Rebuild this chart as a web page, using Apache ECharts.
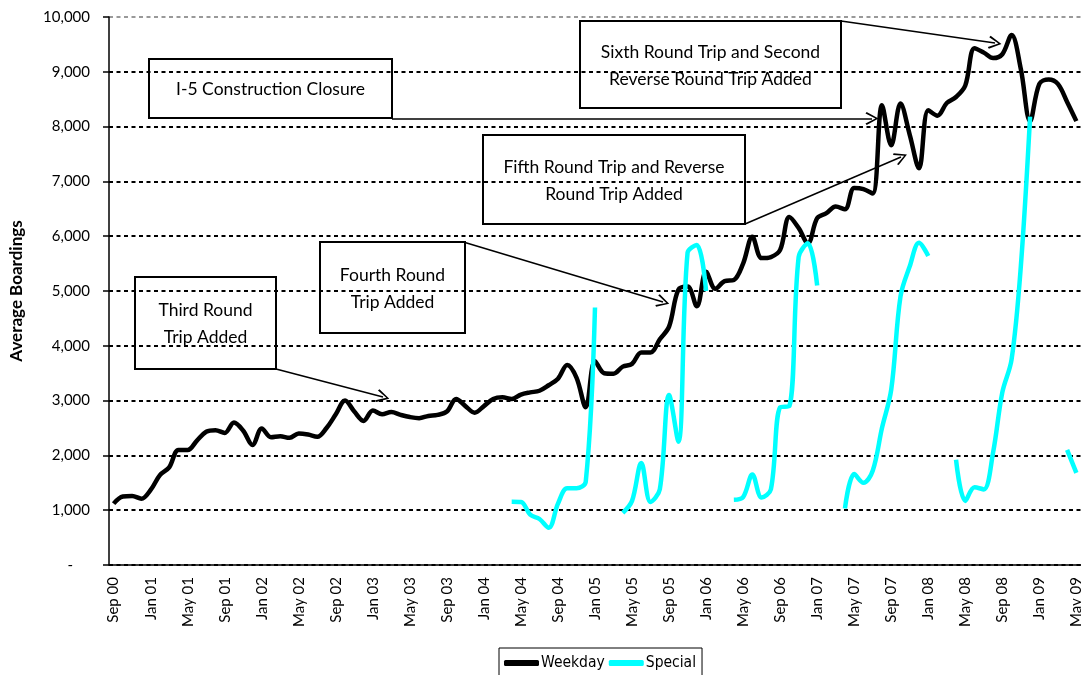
<!DOCTYPE html>
<html>
<head>
<meta charset="utf-8">
<title>Average Boardings</title>
<script src="https://cdn.jsdelivr.net/npm/echarts@6/dist/echarts.min.js"></script>
<style>
  html, body { margin: 0; padding: 0; background: #fff; }
  #main { width: 1081px; height: 675px; }
</style>
</head>
<body>
<div id="main"></div>
<script>
// months, Sep 00 .. May 09
const months = [
  'Sep 00', 'Oct 00', 'Nov 00', 'Dec 00',
  'Jan 01', 'Feb 01', 'Mar 01', 'Apr 01', 'May 01', 'Jun 01', 'Jul 01', 'Aug 01', 'Sep 01', 'Oct 01', 'Nov 01', 'Dec 01',
  'Jan 02', 'Feb 02', 'Mar 02', 'Apr 02', 'May 02', 'Jun 02', 'Jul 02', 'Aug 02', 'Sep 02', 'Oct 02', 'Nov 02', 'Dec 02',
  'Jan 03', 'Feb 03', 'Mar 03', 'Apr 03', 'May 03', 'Jun 03', 'Jul 03', 'Aug 03', 'Sep 03', 'Oct 03', 'Nov 03', 'Dec 03',
  'Jan 04', 'Feb 04', 'Mar 04', 'Apr 04', 'May 04', 'Jun 04', 'Jul 04', 'Aug 04', 'Sep 04', 'Oct 04', 'Nov 04', 'Dec 04',
  'Jan 05', 'Feb 05', 'Mar 05', 'Apr 05', 'May 05', 'Jun 05', 'Jul 05', 'Aug 05', 'Sep 05', 'Oct 05', 'Nov 05', 'Dec 05',
  'Jan 06', 'Feb 06', 'Mar 06', 'Apr 06', 'May 06', 'Jun 06', 'Jul 06', 'Aug 06', 'Sep 06', 'Oct 06', 'Nov 06', 'Dec 06',
  'Jan 07', 'Feb 07', 'Mar 07', 'Apr 07', 'May 07', 'Jun 07', 'Jul 07', 'Aug 07', 'Sep 07', 'Oct 07', 'Nov 07', 'Dec 07',
  'Jan 08', 'Feb 08', 'Mar 08', 'Apr 08', 'May 08', 'Jun 08', 'Jul 08', 'Aug 08', 'Sep 08', 'Oct 08', 'Nov 08', 'Dec 08',
  'Jan 09', 'Feb 09', 'Mar 09', 'Apr 09', 'May 09'
];

// weekday boardings
const weekday = [
  1120, 1250, 1260, 1210,
  1370, 1640, 1780, 2100, 2100, 2270, 2430, 2460, 2410, 2600, 2450, 2190,
  2490, 2330, 2350, 2320, 2400, 2380, 2340, 2500, 2750, 3000, 2800, 2630,
  2820, 2750, 2790, 2740, 2700, 2680, 2720, 2740, 2800, 3030, 2900, 2780,
  2900, 3030, 3060, 3030, 3110, 3150, 3180, 3280, 3400, 3650, 3420, 2880,
  3720, 3500, 3490, 3620, 3670, 3880, 3880, 4120, 4350, 5020, 5080, 4720,
  5350, 5040, 5180, 5200, 5500, 5990, 5600, 5620, 5750, 6350, 6150, 5870,
  6330, 6420, 6540, 6490, 6880, 6860, 6780, 8390, 7660, 8420, 7850, 7240,
  8300, 8200, 8430, 8540, 8750, 9430, 9350, 9250, 9320, 9670, 9050, 8100,
  8780, 8860, 8780, 8450, 8100
];

// special service boardings (gaps = no service)
const special = [
  null, null, null, null,
  null, null, null, null, null, null, null, null, null, null, null, null,
  null, null, null, null, null, null, null, null, null, null, null, null,
  null, null, null, null, null, null, null, null, null, null, null, null,
  null, null, null, 1155, 1150, 920, 840, 680, 1120, 1400, 1400, 1520,
  4700, null, null, 950, 1170, 1860, 1150, 1380, 3100, 2250, 5700, 5840,
  5000, null, null, 1190, 1240, 1650, 1230, 1380, 2880, 2900, 5620, 5870,
  5100, null, null, 1030, 1660, 1500, 1720, 2500, 3200, 4900, 5450, 5880,
  5640, null, null, 1920, 1170, 1420, 1380, 2050, 3150, 3750, 5450, 8180,
  null, null, null, 2100, 1680
];

// annotation boxes (pixels) and their arrows
const notes = [
  { text: 'I-5 Construction Closure', x: 149, y: 59, w: 243, h: 59 },
  { text: 'Third Round\nTrip Added', x: 135, y: 277, w: 141, h: 92 },
  { text: 'Fourth Round\nTrip Added', x: 320, y: 242, w: 145, h: 91 },
  { text: 'Fifth Round Trip and Reverse\nRound Trip Added', x: 483, y: 135, w: 262, h: 89 },
  { text: 'Sixth Round Trip and Second\nReverse Round Trip Added', x: 580, y: 21, w: 261, h: 87 }
];
const arrows = [
  [[392, 118.5], [872, 118.5]],
  [[276, 369], [383, 397]],
  [[465, 242.5], [663, 302]],
  [[745, 224], [901, 157]],
  [[841, 21], [995, 43]]
];

const chevron = 'path://M0,0L6,10L4.6,11L0,2.6L-4.6,11L-6,10Z';

let chartDom = document.getElementById('main');
let myChart = echarts.init(chartDom);

const graphic = notes.map(function (n) {
  return {
    type: 'group',
    z: 100,
    children: [
      {
        type: 'rect',
        shape: { x: n.x, y: n.y, width: n.w, height: n.h },
        style: { fill: '#fff', stroke: '#000', lineWidth: 2 }
      },
      {
        type: 'text',
        style: {
          text: n.text,
          x: n.x + n.w / 2,
          y: n.y + n.h / 2 + 1,
          align: 'center',
          verticalAlign: 'middle',
          fontFamily: 'Lato',
          fontSize: 17.5,
          lineHeight: 27,
          fill: '#000'
        }
      }
    ]
  };
});

const gridColors = [];
for (let i = 0; i < 10; i++) gridColors.push('#000');
gridColors.push('#999');

const option = {
  animation: false,
  textStyle: { fontFamily: 'Lato' },
  grid: { left: 109, right: 0, top: 17, bottom: 110, containLabel: false, outerBoundsMode: 'none' },
  xAxis: {
    type: 'category',
    data: months,
    boundaryGap: true,
    axisLine: { lineStyle: { color: '#000', width: 1.5 } },
    axisTick: { interval: 3, length: 6, lineStyle: { color: '#000', width: 1.5 } },
    axisLabel: { interval: 3, rotate: 90, fontSize: 15, color: '#000', margin: 12, padding: [0, 0, 7, 0] },
    splitLine: { show: false }
  },
  yAxis: {
    type: 'value',
    min: 0,
    max: 10000,
    interval: 1000,
    name: 'Average Boardings',
    nameLocation: 'middle',
    nameGap: 84,
    nameTextStyle: { fontWeight: 'bold', fontSize: 17, color: '#000' },
    axisLine: { show: true, lineStyle: { color: '#000', width: 1.5 } },
    axisTick: { show: true, length: 6, lineStyle: { color: '#000', width: 1.5 } },
    axisLabel: {
      fontSize: 15,
      color: '#000',
      margin: 19,
      formatter: function (v) {
        return v === 0 ? '{d|-}' : v.toLocaleString('en-US');
      },
      rich: { d: { fontSize: 15, padding: [0, 17, 0, 0] } }
    },
    splitLine: { show: true, lineStyle: { type: [4, 3.5], width: 2, color: gridColors } }
  },
  legend: {
    data: ['Weekday', 'Special'],
    left: 499,
    top: 648,
    borderColor: '#000',
    borderWidth: 1,
    padding: [7, 6, 12, 5],
    itemWidth: 35,
    itemHeight: 6,
    itemGap: 4,
    icon: 'roundRect',
    textStyle: { fontFamily: 'DejaVu Sans Condensed', fontSize: 15.5, color: '#000', padding: [0, 0, 0, -3] }
  },
  graphic: graphic,
  series: [
    {
      name: 'Weekday',
      type: 'line',
      data: weekday,
      smooth: 0.35,
      symbol: 'none',
      lineStyle: { color: '#000', width: 4.5 },
      itemStyle: { color: '#000' },
      markLine: {
        silent: true,
        animation: false,
        symbol: ['none', chevron],
        symbolSize: [13, 13],
        label: { show: false },
        lineStyle: { color: '#000', width: 1.5, type: 'solid' },
        data: arrows.map(function (a) {
          return [{ x: a[0][0], y: a[0][1] }, { x: a[1][0], y: a[1][1] }];
        })
      }
    },
    {
      name: 'Special',
      type: 'line',
      data: special,
      smooth: 0.35,
      symbol: 'none',
      lineStyle: { color: '#00FFFF', width: 4.5 },
      itemStyle: { color: '#00FFFF' }
    }
  ]
};

option && myChart.setOption(option);
</script>
</body>
</html>
